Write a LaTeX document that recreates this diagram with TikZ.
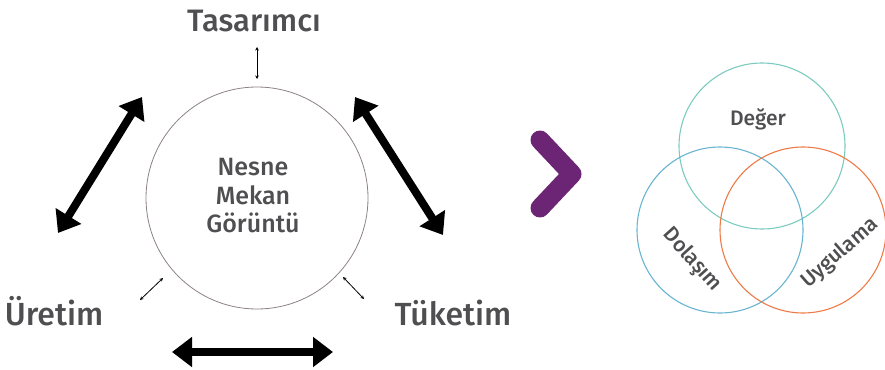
\documentclass[tikz,border=0pt]{standalone}
\usepackage{fontspec}
\setmainfont{Fira Sans}[UprightFont={* Medium}]
\usetikzlibrary{arrows.meta}

\definecolor{yazigri}{HTML}{4F4F51}
\definecolor{halkagri}{HTML}{8C8283}
\definecolor{mor}{HTML}{6C2475}
\definecolor{turkuaz}{HTML}{7CCBBF}
\definecolor{mavi}{HTML}{6AB4D2}
\definecolor{turuncu}{HTML}{EE7B47}

\begin{document}
\begin{tikzpicture}[
            x = 1pt, y = -1pt, % one unit is one pixel of the sketch
            bigarrow/.style = {line width=8pt,
                {Triangle[width=29pt,length=20pt]}-{Triangle[width=29pt,length=20pt]}},
            smallarrow/.style = {line width=0.8pt,
                {Stealth[width=3.5pt,length=3.5pt]}-{Stealth[width=3.5pt,length=3.5pt]}},
            label/.style = {text=yazigri, inner sep=0pt},
            ring/.style = {circle, draw, minimum size=166pt, line width=1.1pt}
        ]

	\useasboundingbox (0,0) rectangle (885,369);

	% left part
	\node[circle, draw=halkagri, line width=0.8pt, minimum size=222pt] (merkez) at (257,198) {};
	\node[label, align=center, font=\fontsize{25}{28.5}\selectfont] (icerik) at (253,196) {Nesne\\Mekan\\Görüntü};

	\node[label, anchor=base, font=\fontsize{31}{40}\selectfont] (tasarimci) at (254,32) {Tasarımcı};
	\node[label, anchor=base, font=\fontsize{32}{40}\selectfont] (uretim) at (54,325) {Üretim};
	\node[label, anchor=base, font=\fontsize{32}{40}\selectfont] (tuketim) at (453,325) {Tüketim};

	\coordinate (t1) at (257,47);  \coordinate (t2) at (257,79);
	\coordinate (u1) at (140,300); \coordinate (u2) at (163,278);
	\coordinate (k1) at (343,277); \coordinate (k2) at (364,299);
	\draw[smallarrow] (t1) -- (t2);
	\draw[smallarrow] (u1) -- (u2);
	\draw[smallarrow] (k1) -- (k2);

	\coordinate (a1) at (58,233);  \coordinate (a2) at (142,97);
	\coordinate (b1) at (355,97);  \coordinate (b2) at (443,235);
	\coordinate (c1) at (172,352); \coordinate (c2) at (333,352);
	\draw[bigarrow] (a1) -- (a2);
	\draw[bigarrow] (b1) -- (b2);
	\draw[bigarrow] (c1) -- (c2);

	% chevron
	\draw[mor, line width=19pt, line cap=round, line join=round] (540,140) -- (572,174) -- (540,208);

	% right part
	\node[ring, draw=turkuaz] (deger) at (762,146) {};
	\node[ring, draw=mavi] (dolasim) at (720,230) {};
	\node[ring, draw=turuncu] (uygulama) at (803,230) {};

	\node[label, anchor=base, font=\fontsize{21}{26}\selectfont] at (758,125) {Değer};
	\node[label, rotate=-48, font=\fontsize{21}{26}\selectfont] at (692,260) {Dolaşım};
	\node[label, rotate=41, font=\fontsize{21}{26}\selectfont] at (840,253) {Uygulama};

\end{tikzpicture}
\end{document}
